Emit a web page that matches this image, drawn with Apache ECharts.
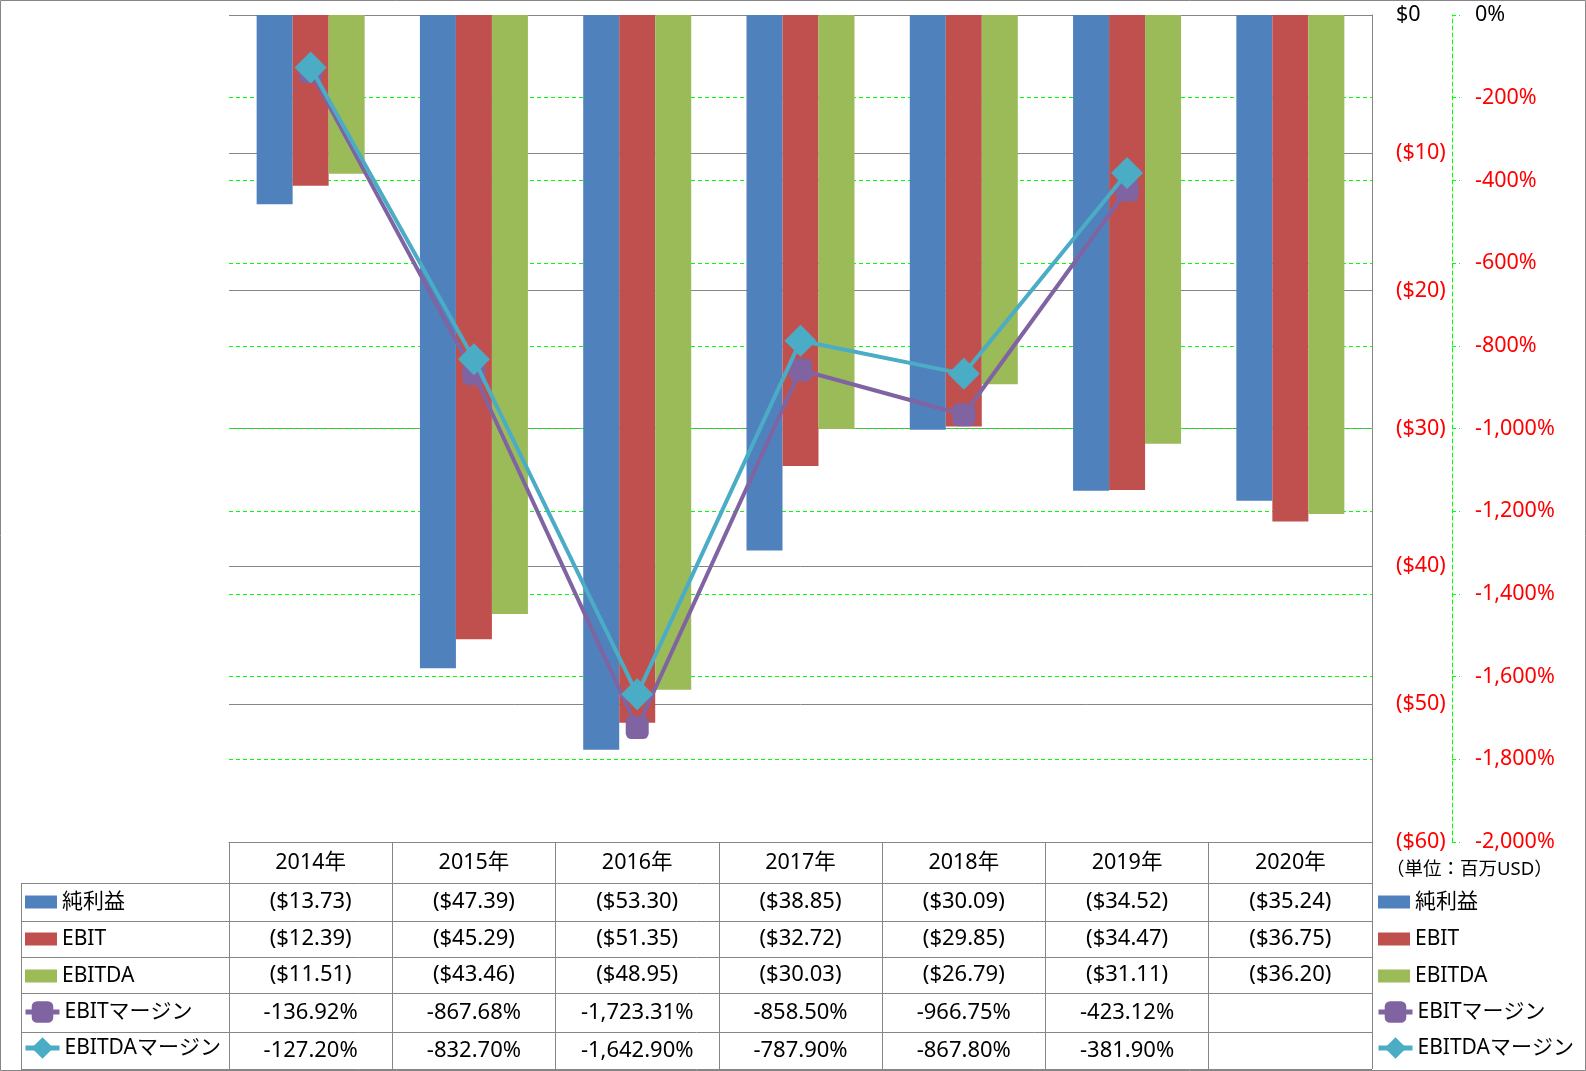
<!DOCTYPE html>
<html>
<head>
<meta charset="utf-8">
<script src="https://cdn.jsdelivr.net/npm/echarts@6/dist/echarts.min.js"></script>
<style>
  html, body { margin: 0; padding: 0; background: #fff; }
  #chart { width: 1586px; height: 1071px; }
</style>
</head>
<body>
<div id="chart"></div>
<script>
// データ（単位：百万USD）
const years = ['2014年', '2015年', '2016年', '2017年', '2018年', '2019年', '2020年'];
const netIncome = [-13.73, -47.39, -53.30, -38.85, -30.09, -34.52, -35.24];
const ebit = [-12.39, -45.29, -51.35, -32.72, -29.85, -34.47, -36.75];
const ebitda = [-11.51, -43.46, -48.95, -30.03, -26.79, -31.11, -36.20];
const ebitMargin = [-136.92, -867.68, -1723.31, -858.50, -966.75, -423.12, null];
const ebitdaMargin = [-127.20, -832.70, -1642.90, -787.90, -867.80, -381.90, null];

const font = '"Noto Sans", "Noto Sans CJK JP", sans-serif';
const gray = '#868686';
const green = '#00FF00';

function money(v) {
  if (v === 0) return '$0';
  return '($' + Math.abs(v).toFixed(2).replace(/\.00$/, '') + ')';
}
function moneyCell(v) {
  return '($' + Math.abs(v).toFixed(2) + ')';
}
function pct(v) {
  if (v == null) return '';
  return v.toLocaleString('en-US', { minimumFractionDigits: 2, maximumFractionDigits: 2 }) + '%';
}

const mycharts = echarts.init(document.getElementById('chart'));

const legendText = { fontSize: 21, lineHeight: 24, color: '#000', fontFamily: font };

mycharts.setOption({
  animation: false,
  backgroundColor: '#fff',
  grid: { left: 229, right: 214, top: 15, bottom: 229 },
  legend: [
    { orient: 'vertical', left: 25, top: 890, padding: 0, itemWidth: 32, itemHeight: 13, itemGap: 13,
      icon: 'rect', selectedMode: false, data: ['純利益', 'EBIT', 'EBITDA'], textStyle: legendText },
    { orient: 'vertical', left: 23, top: 1000, padding: 0, itemWidth: 34, itemHeight: 27, itemGap: 12,
      selectedMode: false, data: ['EBITマージン', 'EBITDAマージン'], textStyle: legendText,
      lineStyle: { width: 5 } },
    { orient: 'vertical', left: 1378, top: 890, padding: 0, itemWidth: 32, itemHeight: 13, itemGap: 13,
      icon: 'rect', selectedMode: false, data: ['純利益', 'EBIT', 'EBITDA'], textStyle: legendText },
    { orient: 'vertical', left: 1376, top: 1000, padding: 0, itemWidth: 34, itemHeight: 27, itemGap: 12,
      selectedMode: false, data: ['EBITマージン', 'EBITDAマージン'], textStyle: legendText,
      lineStyle: { width: 5 } }
  ],
  xAxis: {
    type: 'category',
    data: years,
    position: 'bottom',
    axisLine: { onZero: false, lineStyle: { color: gray, width: 1 } },
    axisTick: { show: true, interval: 0, length: 227, lineStyle: { color: gray } },
    axisLabel: { interval: 0, margin: 10, fontSize: 21.5, color: '#000', fontFamily: font },
    splitLine: { show: false }
  },
  yAxis: [
    {
      type: 'value',
      position: 'right',
      min: -60, max: 0, interval: 10,
      axisLine: { show: true, lineStyle: { color: gray } },
      axisTick: { show: false },
      axisLabel: {
        margin: 24, fontSize: 21.5, fontFamily: font, align: 'left',
        formatter: money,
        color: function (v) { return Number(v) === 0 ? '#000' : '#FF0000'; }
      },
      splitLine: { show: true, lineStyle: { color: gray, width: 1 } }
    },
    {
      type: 'value',
      position: 'right',
      offset: 80,
      min: -2000, max: 0, interval: 200,
      axisLine: { show: true, lineStyle: { color: green, type: [4, 3] } },
      axisTick: { show: true, inside: false, length: 8, lineStyle: { color: green, type: [4, 3] } },
      axisLabel: {
        margin: 23, fontSize: 21.5, fontFamily: font, align: 'left',
        formatter: function (v) { return v === 0 ? '0%' : v.toLocaleString('en-US') + '%'; },
        color: function (v) { return Number(v) === 0 ? '#000' : '#FF0000'; }
      },
      splitLine: { show: true, showMinLine: false, showMaxLine: false, lineStyle: { color: green, width: 1, type: [4, 3] } }
    }
  ],
  series: [
    { name: '純利益', type: 'bar', data: netIncome, barWidth: 36, barGap: '0%', itemStyle: { color: '#4F81BD' } },
    { name: 'EBIT', type: 'bar', data: ebit, barWidth: 36, barGap: '0%', itemStyle: { color: '#C0504D' } },
    { name: 'EBITDA', type: 'bar', data: ebitda, barWidth: 36, barGap: '0%', itemStyle: { color: '#9BBB59' } },
    {
      name: 'EBITマージン', type: 'line', yAxisIndex: 1, data: ebitMargin,
      symbol: 'roundRect', symbolSize: 23, z: 3,
      lineStyle: { width: 4, color: '#8064A2' }, itemStyle: { color: '#8064A2' }
    },
    {
      name: 'EBITDAマージン', type: 'line', yAxisIndex: 1, data: ebitdaMargin,
      symbol: 'diamond', symbolSize: 32, z: 4,
      lineStyle: { width: 4, color: '#4BACC6' }, itemStyle: { color: '#4BACC6' }
    }
  ]
});

// データテーブル
const rowLines = [883, 921, 957, 993, 1032, 1069];
const rowCenters = [902, 939, 975, 1012.5, 1050.5];
const rows = [
  netIncome.map(moneyCell),
  ebit.map(moneyCell),
  ebitda.map(moneyCell),
  ebitMargin.map(pct),
  ebitdaMargin.map(pct)
];

const graphics = [];
graphics.push({
  type: 'rect', silent: true,
  shape: { x: 0.5, y: 0.5, width: 1585, height: 1070 },
  style: { fill: 'none', stroke: gray, lineWidth: 1 }
});
rowLines.forEach(function (y) {
  graphics.push({
    type: 'line', silent: true,
    shape: { x1: 21, y1: y + 0.5, x2: 1372, y2: y + 0.5 },
    style: { stroke: gray, lineWidth: 1 }
  });
});
graphics.push({
  type: 'line', silent: true,
  shape: { x1: 21.5, y1: 883, x2: 21.5, y2: 1069 },
  style: { stroke: gray, lineWidth: 1 }
});
rows.forEach(function (vals, r) {
  vals.forEach(function (txt, i) {
    const x = mycharts.convertToPixel({ xAxisIndex: 0 }, years[i]);
    graphics.push({
      type: 'text', silent: true,
      style: {
        text: txt, x: x, y: rowCenters[r], align: 'center', verticalAlign: 'middle',
        fontSize: 22, fontFamily: font, fill: '#000'
      }
    });
  });
});
graphics.push({
  type: 'text', silent: true,
  style: {
    text: '（単位：百万USD）', x: 1386, y: 870, align: 'left', verticalAlign: 'middle',
    fontSize: 18.5, fontFamily: font, fill: '#000'
  }
});

mycharts.setOption({ graphic: graphics });
</script>
</body>
</html>
